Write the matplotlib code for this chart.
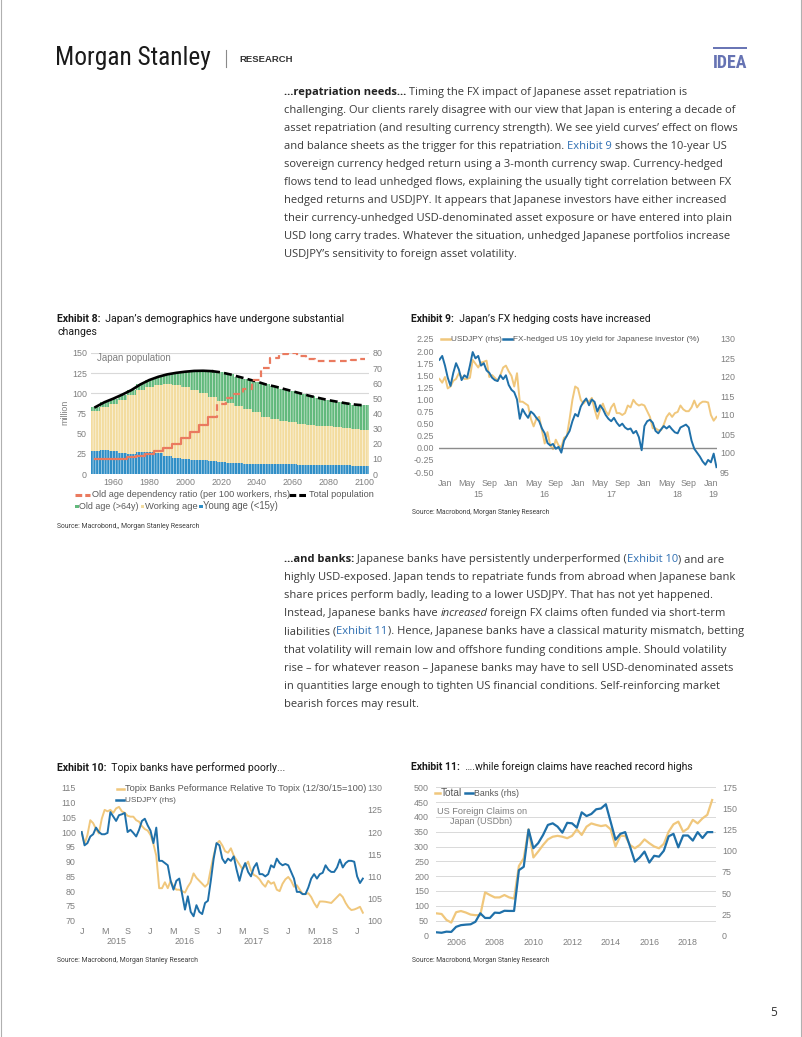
import numpy as np
import matplotlib
matplotlib.use("Agg")
import matplotlib.pyplot as plt
from matplotlib import font_manager as fm
from matplotlib.font_manager import FontProperties
from matplotlib.lines import Line2D
from matplotlib.patches import Rectangle
from matplotlib.transforms import blended_transform_factory as btf

# ===================== DATA =====================
# Exhibit 8: Japan population (million), 5-year steps
demo_years = [1950, 1955, 1960, 1965, 1970, 1975, 1980, 1985, 1990, 1995, 2000,
              2005, 2010, 2015, 2020, 2025, 2030, 2035, 2040, 2045, 2050, 2055,
              2060, 2065, 2070, 2075, 2080, 2085, 2090, 2095, 2100]
young = [29, 29.5, 28, 25.5, 25, 27, 27, 26, 22.5, 20, 18.5, 17.5, 16.8, 16, 15,
         14, 13.5, 13, 12.8, 12.5, 12.3, 12, 11.8, 11.5, 11.3, 11.2, 11, 10.8,
         10.7, 10.5, 10.5]
working = [49, 53.5, 59, 66.5, 73, 77, 81, 84, 88.5, 90, 89, 86.5, 83.2, 79, 76,
           73.5, 70.5, 67, 63.7, 58.5, 55.7, 54, 52.7, 51, 49.7, 48.8, 48, 47.2,
           46.3, 45.5, 44.5]
old = [5, 6, 6.5, 6.5, 6, 7, 8.5, 10.5, 12.5, 15.4, 19.3, 23.8, 28, 32.5, 35,
       36, 36.5, 37.5, 38, 40, 40.5, 39.5, 38, 37, 35.5, 34, 32.5, 31.5, 30.5,
       30, 30]
total_pop = [83, 89, 93.5, 98.5, 104, 111, 116.5, 120.5, 123.5, 125.4, 126.8,
             127.8, 128, 127.5, 126, 123.5, 120.5, 117.5, 114.5, 111, 108.5,
             105.5, 102.5, 99.5, 96.5, 94, 91.5, 89.5, 87.5, 86, 85]
dependency = [10, 10, 10, 10, 11, 12, 13.5, 15, 17, 20, 24, 28, 32.5, 38, 46,
              50, 53, 56, 62, 70, 77, 79.5, 80, 78, 76, 75, 75, 75, 75, 75.5, 76]
projection_from = 2015

# Exhibit 9: half-monthly observations, months since Jan 2015
fx_months = np.arange(-1.0, 49.01, 0.5)
usdjpy = [119.5, 118.5, 120, 117, 117.5, 119, 119.5, 121, 120, 119.5,
          119.5, 119.8, 124.5, 123.5, 122.5, 123.8, 124, 124.3, 120, 120.5,
          119.8, 119, 120.5, 122.5, 123, 121.5, 120.3, 117.5, 121, 113.5,
          113.5, 113, 112.5, 109, 107, 109, 109.5, 106, 102.5, 105.5,
          102, 101, 103.5, 102, 101.5, 104, 104.5, 109, 114, 117.5,
          117, 114, 113, 114, 113.5, 114.5, 111.5, 109, 111.5, 113,
          111, 110, 112, 113, 110.5, 110.5, 110, 110.5, 112.5, 112,
          114, 113, 112.5, 112.8, 112.5, 111, 109.5, 106.5, 106.5, 106,
          106, 107.5, 109.5, 110.5, 109.5, 110.5, 110.8, 112.5, 111.5, 111,
          111, 112, 113.8, 112, 113, 113.5, 113.5, 113.3, 110, 108.5,
          109.5]
hedged_yield = [1.82, 1.90, 1.70, 1.45, 1.28, 1.55, 1.75, 1.62, 1.40, 1.50,
                1.45, 1.70, 1.98, 1.85, 1.90, 1.70, 1.75, 1.60, 1.55, 1.45,
                1.40, 1.38, 1.50, 1.42, 1.50, 1.30, 1.20, 1.15, 1.00, 0.60,
                0.80, 0.70, 0.62, 0.75, 0.70, 0.62, 0.55, 0.40, 0.30, 0.10,
                0.05, 0.08, -0.02, 0.02, -0.10, 0.15, 0.25, 0.35, 0.55, 0.70,
                0.65, 0.85, 0.95, 1.02, 0.88, 1.00, 0.95, 0.75, 0.88, 0.80,
                0.68, 0.60, 0.55, 0.62, 0.52, 0.45, 0.50, 0.42, 0.38, 0.40,
                0.30, 0.35, 0.22, -0.05, 0.45, 0.55, 0.58, 0.52, 0.35, 0.30,
                0.38, 0.45, 0.40, 0.45, 0.38, 0.32, 0.30, 0.42, 0.45, 0.48,
                0.42, 0.15, -0.02, -0.10, -0.18, -0.28, -0.35, -0.25, -0.30, -0.12,
                -0.40]
month_labels = ["Jan", "May", "Sep"]
year_labels_9 = ["15", "16", "17", "18", "19"]

# Exhibit 10: Topix banks relative to Topix (12/30/15=100), half-monthly from Jan 2015
topix_months = np.arange(0.0, 49.01, 0.5)
topix_rel = [100, 96, 99, 104, 103, 101, 99.5, 104.5, 107.5, 107,
             107.5, 106.5, 108, 108.5, 107, 106.5, 105.5, 105.2, 105.2, 104,
             103.5, 102, 101, 100.5, 99, 96, 92, 81, 81, 83,
             81, 83.5, 81.5, 80.5, 80.5, 80, 79.5, 81.5, 83, 86,
             84.5, 83.5, 82.5, 81.5, 82.5, 87.5, 92, 96, 97, 95.5,
             93.5, 93, 94.5, 92, 90.5, 89, 87.5, 88.5, 90, 87,
             85.5, 85, 84, 82.5, 81.5, 83.5, 82.5, 83, 80.5, 80,
             82.5, 84, 84.8, 83.5, 81.5, 82, 80.5, 79, 79, 79.3,
             78, 76, 74.5, 76.5, 76.5, 76.4, 76.2, 76, 77, 78,
             79, 78, 76, 74.5, 73.6, 73.8, 74.2, 74.7, 72.7]
month_labels_10 = ["J", "M", "S"]
year_labels_10 = ["2015", "2016", "2017", "2018"]

# Exhibit 11: US foreign claims on Japan (USDbn), quarterly
claims_x = np.arange(2005.0, 2019.3, 0.25)
claims_total = [74, 72, 52, 43, 78, 82, 77, 70, 68, 68,
                145, 136, 128, 128, 136, 128, 124, 234, 260, 358,
                263, 283, 305, 324, 333, 336, 333, 328, 336, 358,
                339, 367, 378, 373, 369, 372, 358, 300, 336, 336,
                305, 294, 305, 324, 311, 300, 294, 309, 350, 375,
                384, 350, 361, 390, 378, 395, 407, 457]
claims_banks = [3.5, 3, 4.3, 4, 10, 12, 12.6, 13, 16, 26,
                20.5, 20.5, 26.8, 26.4, 29, 28.8, 28.8, 77, 81, 125,
                103, 109, 118.6, 130.5, 132.4, 128.5, 121.4, 133, 132.4, 127.3,
                145.4, 141, 143.5, 149, 150, 155, 134, 113, 120, 122,
                105, 87, 92, 99, 86, 94, 93, 100, 117, 120,
                104, 118, 118, 112, 122, 115, 122, 122]
claims_year_ticks = [2006, 2008, 2010, 2012, 2014, 2016, 2018]

# ===================== SETUP =====================
W, H = 802, 1037
names = {f.name for f in fm.fontManager.ttflist}


def pick(*cands):
    for c in cands:
        if c in names:
            return c
    return "DejaVu Sans"


def condensed():
    for n in ["Roboto Condensed", "Liberation Sans Narrow", "Open Sans Condensed",
              "Noto Sans Condensed"]:
        if n in names:
            return n, "normal"
    for f in fm.fontManager.ttflist:
        if f.name in ("Noto Sans", "Open Sans", "Roboto", "DejaVu Sans") and \
                f.stretch in ("condensed", "semi-condensed", "extra-condensed"):
            return f.name, f.stretch
    return "DejaVu Sans", "normal"


BODY = pick("Open Sans", "Noto Sans", "DejaVu Sans")
TITLE = pick("Roboto", "Liberation Sans", "DejaVu Sans")
CH = pick("Liberation Sans", "Roboto", "DejaVu Sans")
COND, COND_ST = condensed()

plt.rcParams["font.family"] = [CH, "DejaVu Sans"]
plt.rcParams["hatch.color"] = "white"
plt.rcParams["hatch.linewidth"] = 0.35

fig = plt.figure(figsize=(W / 100, H / 100), dpi=100)
fig.patch.set_facecolor("white")
R = fig.canvas.get_renderer()

TXT = "#3a3a3a"
LINK = "#2f6fb2"
TC = "#7f7f7f"
LC = "#595959"
YEL = "#f0c77c"
BLU = "#1f70a9"
G8 = "#62b97c"
Y8 = "#f3dc9f"
B8 = "#2f8ec6"
OR8 = "#ea7a5f"
TS = 6.4


def fp(size, family, weight="normal", style="normal", stretch="normal"):
    return FontProperties(family=family, size=size, weight=weight, style=style,
                          stretch=stretch)


def tw(s, prop):
    w1 = R.get_text_width_height_descent(s + "|", prop, ismath=False)[0]
    w2 = R.get_text_width_height_descent("|", prop, ismath=False)[0]
    return w1 - w2


def seg_width(segs, size, family, stretch="normal"):
    tot = 0
    for seg in segs:
        o = seg[1] if len(seg) > 1 else {}
        tot += tw(seg[0], fp(size, family, o.get("weight", "normal"),
                             o.get("style", "normal"), stretch))
    return tot


def fit(segs, target, family, stretch="normal"):
    return 10.0 * target / seg_width(segs, 10.0, family, stretch)


def runs(x, y, segs, size, family, color=TXT, va="baseline", stretch="normal"):
    cur = x
    for seg in segs:
        o = seg[1] if len(seg) > 1 else {}
        prop = fp(size, family, o.get("weight", "normal"), o.get("style", "normal"),
                  stretch)
        fig.text(cur / W, 1 - y / H, seg[0], fontproperties=prop,
                 color=o.get("color", color), va=va, ha="left")
        cur += tw(seg[0], prop)
    return cur


def fit_text(x, y, s, width, family, color=LC, va="center", weight="normal",
             stretch="normal", ha="left"):
    segs = [(s, {"weight": weight})]
    size = fit(segs, width, family, stretch)
    if ha == "center":
        x = x - width / 2
    return runs(x, y, segs, size, family, color=color, va=va, stretch=stretch), size


def hline(x0, x1, y, **kw):
    fig.add_artist(Line2D([x0 / W, x1 / W], [1 - y / H, 1 - y / H],
                          transform=fig.transFigure, **kw))


def square(x, y, s, color):
    fig.add_artist(Rectangle((x / W, 1 - (y + s / 2) / H), s / W, s / H,
                             transform=fig.transFigure, color=color, lw=0))


def add_axes_px(l, t, r, b):
    return fig.add_axes([l / W, 1 - b / H, (r - l) / W, (b - t) / H])


def style(ax, pad):
    for s in ax.spines.values():
        s.set_visible(False)
    ax.tick_params(length=0, labelsize=TS, labelcolor=TC, pad=pad)


def xlab(ax, x, py, s, size=TS):
    ax.text(x, 1 - py / H, s, transform=btf(ax.transData, fig.transFigure),
            ha="center", va="center", fontsize=size, color=TC, clip_on=False)


# ===================== PAGE FRAME / HEADER =====================
fig.add_artist(Line2D([0.8 / W, 0.8 / W], [0, 1], transform=fig.transFigure,
                      color="#b0b0b0", lw=0.8))
fig.add_artist(Line2D([(W - 1.2) / W, (W - 1.2) / W], [0, 1],
                      transform=fig.transFigure, color="#b0b0b0", lw=0.8))

fit_text(55, 65, "Morgan Stanley", 156, COND, color="#1a1a1a", va="baseline",
         stretch=COND_ST)
fig.add_artist(Line2D([226 / W, 226 / W], [1 - 50 / H, 1 - 67 / H],
                      transform=fig.transFigure, color="#8a8a8a", lw=0.8))
fit_text(239.5, 62.3, "RESEARCH", 53, CH, color="#333333", va="baseline",
         weight="bold")
hline(712.5, 746.8, 47.6, color="#6673b3", lw=1.4, solid_capstyle="butt")
fit_text(712.5, 67.5, "IDEA", 34, COND, color="#6673b3", va="baseline",
         weight="bold", stretch=COND_ST)

# ===================== BODY TEXT =====================
B = {"weight": "bold", "color": "#222222"}
LK = {"color": LINK}
IT = {"style": "italic"}
para1 = [
    [("…repatriation needs…", B), (" Timing the FX impact of Japanese asset repatriation is",)],
    [("challenging. Our clients rarely disagree with our view that Japan is entering a decade of",)],
    [("asset repatriation (and resulting currency strength). We see yield curves’ effect on flows",)],
    [("and balance sheets as the trigger for this repatriation. ",), ("Exhibit 9", LK),
     (" shows the 10-year US",)],
    [("sovereign currency hedged return using a 3-month currency swap. Currency-hedged",)],
    [("flows tend to lead unhedged flows, explaining the usually tight correlation between FX",)],
    [("hedged returns and USDJPY. It appears that Japanese investors have either increased",)],
    [("their currency-unhedged USD-denominated asset exposure or have entered into plain",)],
    [("USD long carry trades. Whatever the situation, unhedged Japanese portfolios increase",)],
    [("USDJPY’s sensitivity to foreign asset volatility.",)],
]
para2 = [
    [("…and banks:", B), (" Japanese banks have persistently underperformed (",),
     ("Exhibit 10", LK), (") and are",)],
    [("highly USD-exposed. Japan tends to repatriate funds from abroad when Japanese bank",)],
    [("share prices perform badly, leading to a lower USDJPY. That has not yet happened.",)],
    [("Instead, Japanese banks have ",), ("increased", IT),
     (" foreign FX claims often funded via short-term",)],
    [("liabilities (",), ("Exhibit 11", LK),
     ("). Hence, Japanese banks have a classical maturity mismatch, betting",)],
    [("that volatility will remain low and offshore funding conditions ample. Should volatility",)],
    [("rise – for whatever reason – Japanese banks may have to sell USD-denominated assets",)],
    [("in quantities large enough to tighten US financial conditions. Self-reinforcing market",)],
    [("bearish forces may result.",)],
]
body_size = fit(para1[1], 451, BODY)
for i, line in enumerate(para1):
    runs(284, 94.5 + 18.1 * i, line, body_size, BODY)
for i, line in enumerate(para2):
    runs(284, 562.0 + 18.1 * i, line, body_size, BODY)

fig.text(770 / W, 1 - 1013 / H, "5", fontsize=8.5, family=BODY, color="#333333",
         ha="left", va="center")

# ===================== TITLES / SOURCES =====================
TB = {"weight": "bold", "color": "#1a1a1a"}
t8 = [("Exhibit 8:", TB), ("  Japan’s demographics have undergone substantial",)]
s8 = fit(t8, 289, TITLE)
runs(57, 322.5, t8, s8, TITLE, color="#1a1a1a")
runs(57, 335.2, [("changes",)], s8, TITLE, color="#1a1a1a")
t9 = [("Exhibit 9:", TB), ("  Japan’s FX hedging costs have increased",)]
runs(411, 322.5, t9, fit(t9, 240, TITLE), TITLE, color="#1a1a1a")
t10 = [("Exhibit 10:", TB), ("  Topix banks have performed poorly...",)]
runs(57, 770.8, t10, fit(t10, 229.5, TITLE), TITLE, color="#1a1a1a")
t11 = [("Exhibit 11:", TB), ("  ….while foreign claims have reached record highs",)]
runs(411, 769.5, t11, fit(t11, 281.5, TITLE), TITLE, color="#1a1a1a")

fit_text(57, 526, "Source: Macrobond,, Morgan Stanley Research", 141, TITLE, color="#404040")
fit_text(411.5, 512.7, "Source: Macrobond, Morgan Stanley Research", 138.5, TITLE, color="#404040")
fit_text(57, 960.7, "Source: Macrobond, Morgan Stanley Research", 139.5, TITLE, color="#404040")
fit_text(411.5, 961, "Source: Macrobond, Morgan Stanley Research", 138.5, TITLE, color="#404040")

# ===================== EXHIBIT 8 =====================
ax8 = add_axes_px(91, 353, 369, 474)
yrs = np.array(demo_years, dtype=float)
yv, wv, ov = np.array(young), np.array(working), np.array(old)
ax8.bar(yrs, yv, width=5, color=B8, hatch="||||||", lw=0, zorder=2)
ax8.bar(yrs, wv, width=5, bottom=yv, color=Y8, hatch="||||||", lw=0, zorder=2)
ax8.bar(yrs, ov, width=5, bottom=yv + wv, color=G8, hatch="||||||", lw=0, zorder=2)
tp = np.array(total_pop)
hist = yrs <= projection_from
proj = yrs >= projection_from
ax8.plot(yrs[hist], tp[hist], color="black", lw=1.9, zorder=4)
ax8.plot(yrs[proj], tp[proj], color="black", lw=1.9, ls=(0, (3, 1.6)), zorder=4)
ax8.set_xlim(1947.5, 2102.5)
ax8.set_ylim(0, 150)
ax8.set_yticks(range(0, 151, 25))
ax8.set_xticks([])
ax8.grid(axis="y", color="#d9d9d9", lw=0.8, zorder=0)
ax8.set_axisbelow(True)
style(ax8, 2.9)
ax8r = ax8.twinx()
dep = np.array(dependency)
ax8r.plot(yrs[hist], dep[hist], color=OR8, lw=1.6, drawstyle="steps-mid", zorder=5)
ax8r.plot(yrs[proj], dep[proj], color=OR8, lw=1.6, drawstyle="steps-mid",
          ls=(0, (3, 2)), zorder=5)
ax8r.set_ylim(0, 80)
ax8r.set_yticks(range(0, 81, 10))
style(ax8r, 2.6)
for yr in range(1960, 2101, 20):
    xlab(ax8, yr, 482.3, str(yr))
fig.text(65 / W, 1 - 412 / H, "million", rotation=90, fontsize=TS, color=TC,
         ha="center", va="center")
fit_text(96.7, 358.3, "Japan population", 74, CH, color=TC)

# legend 8
hline(75, 90, 495, color=OR8, lw=2.2, ls=(0, (2.2, 1.0)))
fit_text(91.7, 495, "Old age dependency ratio (per 100 workers, rhs)", 196, CH)
hline(289, 307, 495, color="black", lw=2.2, ls=(0, (2.2, 1.0)))
fit_text(309.3, 495, "Total population", 64.5, CH)
square(75, 506.3, 3.6, G8)
fit_text(79.3, 506.3, "Old age (>64y)", 59.5, CH)
square(140.7, 506.3, 3.6, Y8)
fit_text(145, 506.3, "Working age", 52.5, CH)
square(199, 506.3, 3.6, B8)
fit_text(203.3, 506.3, "Young age (<15y)", 75.4, CH)

# ===================== EXHIBIT 9 =====================
ax9 = add_axes_px(439, 339, 717, 472)
ax9r = ax9.twinx()
ax9r.plot(fx_months, usdjpy, color=YEL, lw=1.4)
ax9r.set_ylim(95, 130)
ax9r.set_yticks(range(95, 131, 5))
style(ax9r, 2.2)
ax9.axhline(0, color="#8c8c8c", lw=1.0)
ax9.plot(fx_months, hedged_yield, color=BLU, lw=1.4)
ax9.set_zorder(ax9r.get_zorder() + 1)
ax9.patch.set_visible(False)
ax9.set_xlim(-1.08, 49.1)
ax9.set_ylim(-0.5, 2.25)
yt9 = np.arange(-0.5, 2.26, 0.25)
ax9.set_yticks(yt9)
ax9.set_yticklabels(["%.2f" % v for v in yt9])
ax9.set_xticks([])
style(ax9, 3.6)
for i, m in enumerate(range(0, 49, 4)):
    xlab(ax9, m, 483.3, month_labels[i % 3])
for i, lab in enumerate(year_labels_9):
    xlab(ax9, 6 + 12 * i if i < 4 else 48.5, 494.5, lab)
hline(440.7, 450, 339.3, color=YEL, lw=1.8)
fit_text(450.7, 339.3, "USDJPY (rhs)", 51.3, CH)
hline(503, 511.7, 339.3, color=BLU, lw=1.8)
fit_text(512.7, 339.3, "FX-hedged US 10y yield for Japanese investor (%)", 185.5, CH)

# ===================== EXHIBIT 10 =====================
ax10 = add_axes_px(81, 787.7, 364, 920.7)
ax10.plot(topix_months, topix_rel, color=YEL, lw=1.4)
ax10.set_xlim(-0.12, 49.2)
ax10.set_ylim(70, 115)
ax10.set_yticks(range(70, 116, 5))
ax10.set_xticks([])
style(ax10, 3.6)
ax10r = ax10.twinx()
ax10r.plot(fx_months[2:], usdjpy[2:], color=BLU, lw=1.4)
ax10r.set_ylim(100, 130)
ax10r.set_yticks(range(100, 131, 5))
style(ax10r, 2.2)
for i, m in enumerate(range(0, 49, 4)):
    xlab(ax10, m, 931, month_labels_10[i % 3])
for i, lab in enumerate(year_labels_10):
    xlab(ax10, 6 + 12 * i, 941.7, lab)
hline(116.7, 124, 788.7, color=YEL, lw=1.8)
fit_text(125, 788.7, "Topix Banks Peformance Relative To Topix (12/30/15=100)", 240, CH)
hline(115.5, 124, 800, color=BLU, lw=1.8)
fit_text(125, 800, "USDJPY (rhs)", 51.3, CH)

# ===================== EXHIBIT 11 =====================
ax11 = add_axes_px(436, 787.3, 716, 935.3)
ax11.plot(claims_x, claims_total, color=YEL, lw=1.6)
ax11.set_xlim(2004.96, 2019.45)
ax11.set_ylim(0, 500)
ax11.set_yticks(range(0, 501, 50))
ax11.set_xticks([])
ax11.grid(axis="y", color="#d9d9d9", lw=0.7)
ax11.set_axisbelow(True)
style(ax11, 5.0)
ax11r = ax11.twinx()
ax11r.plot(claims_x, claims_banks, color=BLU, lw=1.6)
ax11r.set_ylim(0, 175)
ax11r.set_yticks(range(0, 176, 25))
style(ax11r, 4.3)
for yr in claims_year_ticks:
    xlab(ax11, yr, 942.7, str(yr))
hline(434.5, 440, 793.3, color=YEL, lw=1.8)
fit_text(441.2, 793.3, "Total", 21.6, CH)
hline(465, 473.3, 793.3, color=BLU, lw=1.8)
fit_text(474.3, 793.3, "Banks (rhs)", 45.0, CH)
fit_text(481.3, 812, "US Foreign Claims on", 89.3, CH, color=TC, ha="center")
fit_text(481.3, 821.7, "Japan (USDbn)", 61.7, CH, color=TC, ha="center")

fig.savefig("out.png", dpi=100, facecolor="white")
